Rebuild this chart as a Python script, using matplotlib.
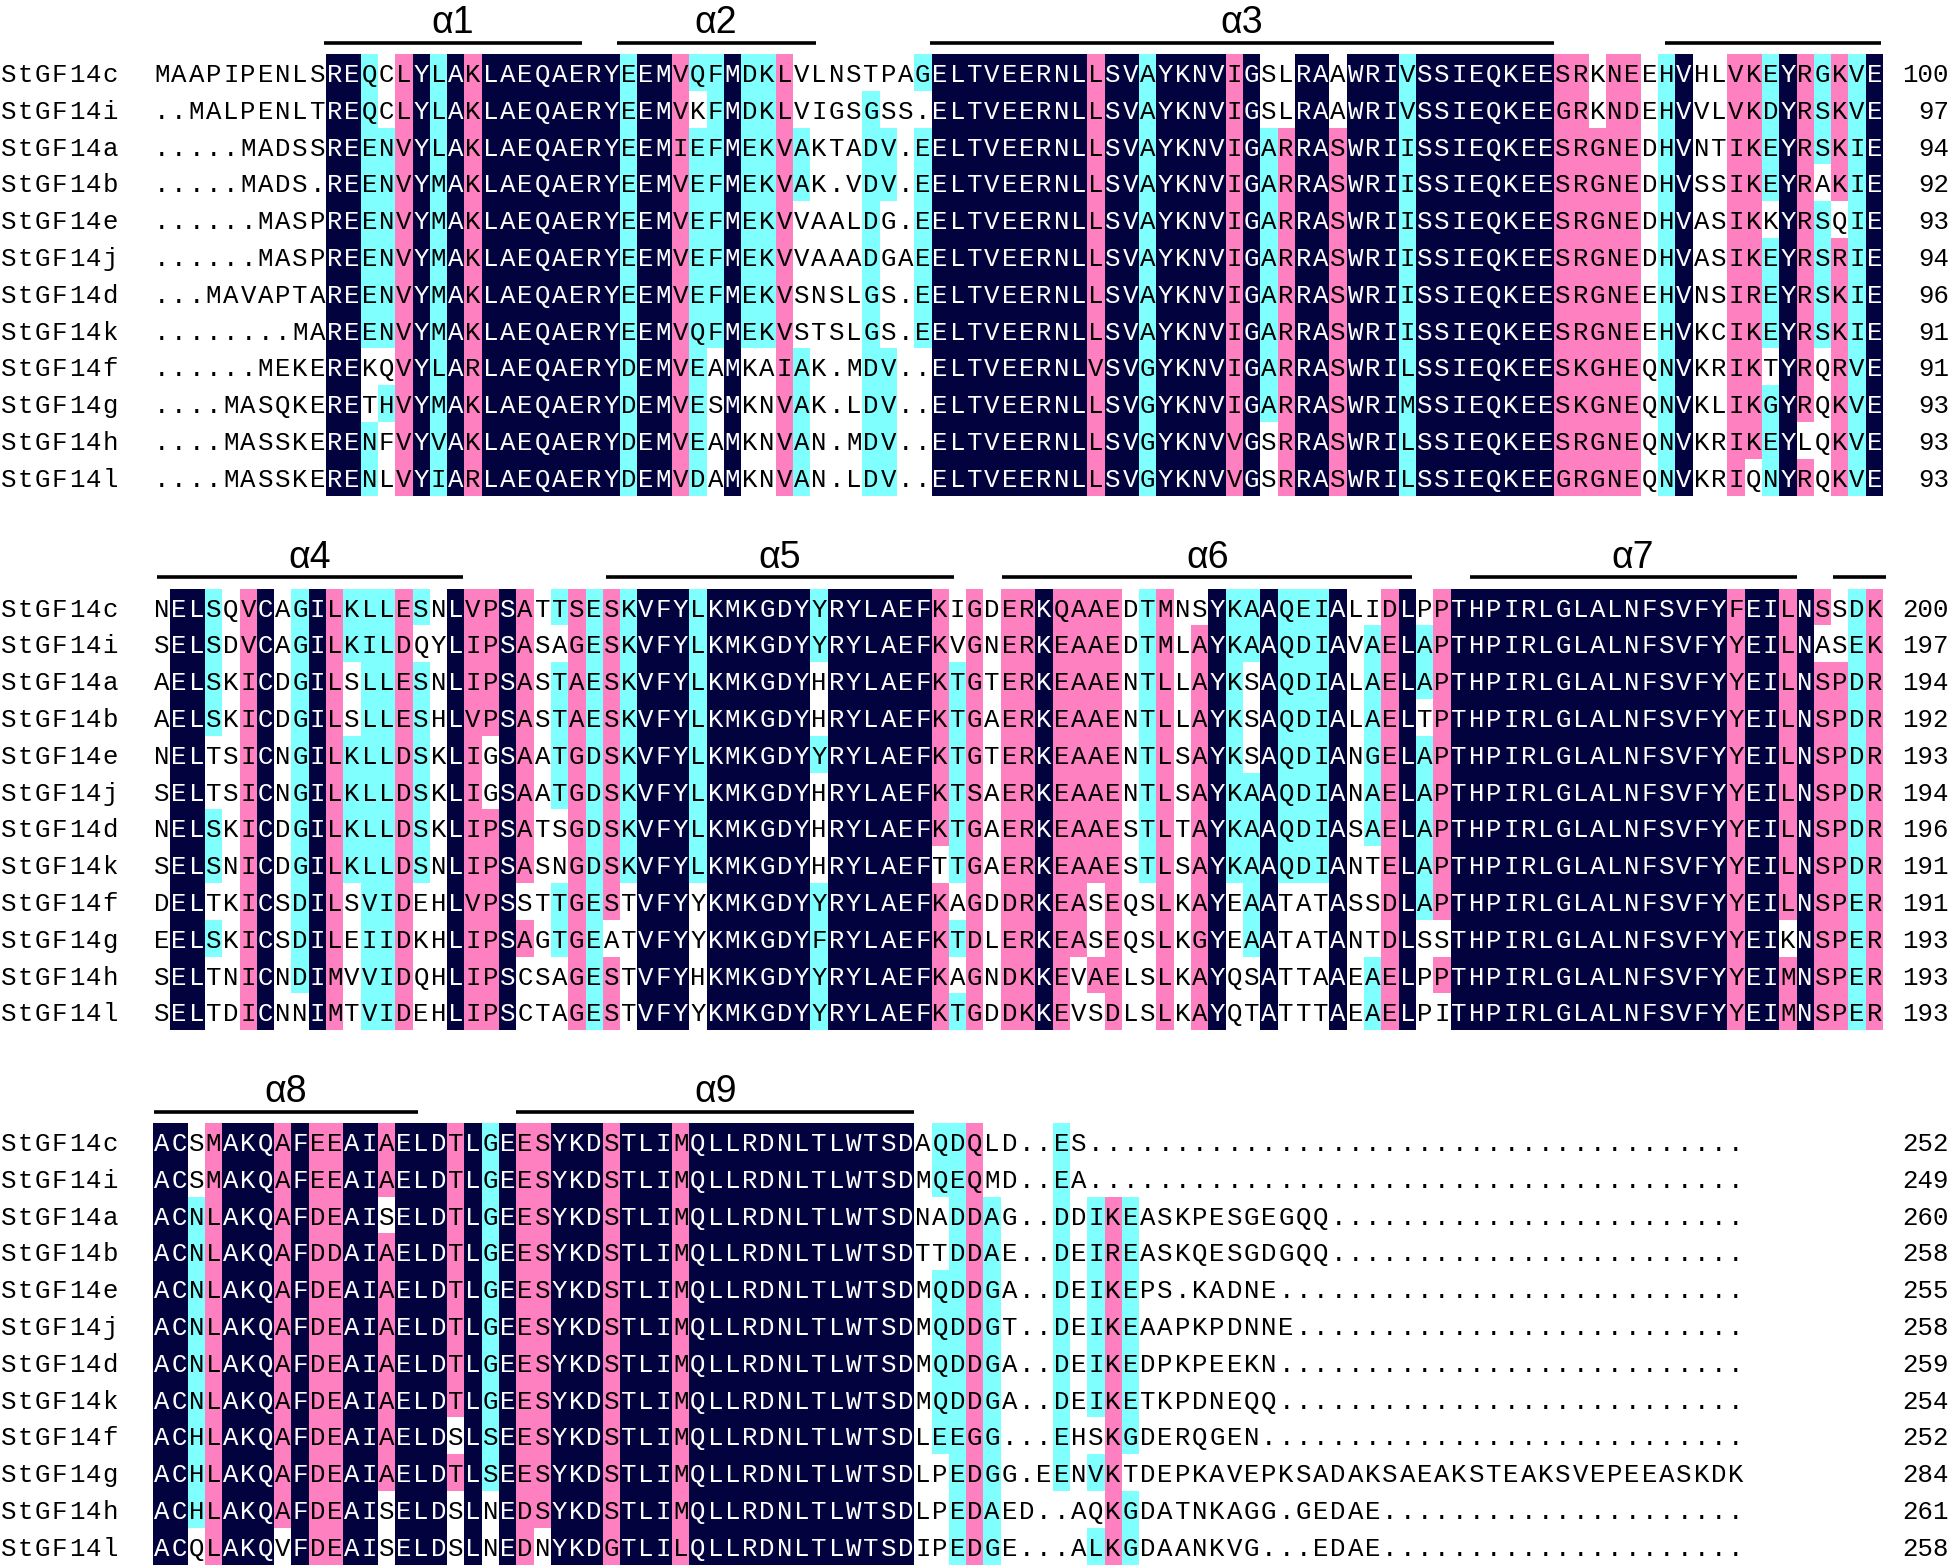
import numpy as np
import matplotlib
matplotlib.use('Agg')
import matplotlib.pyplot as plt
from matplotlib.colors import ListedColormap
from collections import Counter

# --- DATOS ---

names = ['StGF14c', 'StGF14i', 'StGF14a', 'StGF14b', 'StGF14e', 'StGF14j',
         'StGF14d', 'StGF14k', 'StGF14f', 'StGF14g', 'StGF14h', 'StGF14l']

block1 = [
    'MAAPIPENLS' 'REQCLYLAKLAEQAERY' 'EEMVQFMDKL' 'VLNSTPAG' 'ELTVEERNLL' 'SVAYK' 'NVIGSLRAAW' 'RIVSSIEQKE' 'ESRKNEEHVH' 'LVKEYRGKVE',
    '..MALPENLT' 'REQCLYLAKLAEQAERY' 'EEMVKFMDKL' 'VIGSGSS.' 'ELTVEERNLL' 'SVAYK' 'NVIGSLRAAW' 'RIVSSIEQKE' 'EGRKNDEHVV' 'LVKDYRSKVE',
    '.....MADSS' 'REENVYLAKLAEQAERY' 'EEMIEFMEKV' 'AKTADV.E' 'ELTVEERNLL' 'SVAYK' 'NVIGARRASW' 'RIISSIEQKE' 'ESRGNEDHVN' 'TIKEYRSKIE',
    '.....MADS.' 'REENVYMAKLAEQAERY' 'EEMVEFMEKV' 'AK.VDV.E' 'ELTVEERNLL' 'SVAYK' 'NVIGARRASW' 'RIISSIEQKE' 'ESRGNEDHVS' 'SIKEYRAKIE',
    '......MASP' 'REENVYMAKLAEQAERY' 'EEMVEFMEKV' 'VAALDG.E' 'ELTVEERNLL' 'SVAYK' 'NVIGARRASW' 'RIISSIEQKE' 'ESRGNEDHVA' 'SIKKYRSQIE',
    '......MASP' 'REENVYMAKLAEQAERY' 'EEMVEFMEKV' 'VAAADGAE' 'ELTVEERNLL' 'SVAYK' 'NVIGARRASW' 'RIISSIEQKE' 'ESRGNEDHVA' 'SIKEYRSRIE',
    '...MAVAPTA' 'REENVYMAKLAEQAERY' 'EEMVEFMEKV' 'SNSLGS.E' 'ELTVEERNLL' 'SVAYK' 'NVIGARRASW' 'RIISSIEQKE' 'ESRGNEEHVN' 'SIREYRSKIE',
    '........MA' 'REENVYMAKLAEQAERY' 'EEMVQFMEKV' 'STSLGS.E' 'ELTVEERNLL' 'SVAYK' 'NVIGARRASW' 'RIISSIEQKE' 'ESRGNEEHVK' 'CIKEYRSKIE',
    '......MEKE' 'REKQVYLARLAEQAERY' 'DEMVEAMKAI' 'AK.MDV..' 'ELTVEERNLV' 'SVGYK' 'NVIGARRASW' 'RILSSIEQKE' 'ESKGHEQNVK' 'RIKTYRQRVE',
    '....MASQKE' 'RETHVYMAKLAEQAERY' 'DEMVESMKNV' 'AK.LDV..' 'ELTVEERNLL' 'SVGYK' 'NVIGARRASW' 'RIMSSIEQKE' 'ESKGNEQNVK' 'LIKGYRQKVE',
    '....MASSKE' 'RENFVYVAKLAEQAERY' 'DEMVEAMKNV' 'AN.MDV..' 'ELTVEERNLL' 'SVGYK' 'NVVGSRRASW' 'RILSSIEQKE' 'ESRGNEQNVK' 'RIKEYLQKVE',
    '....MASSKE' 'RENLVYIARLAEQAERY' 'DEMVDAMKNV' 'AN.LDV..' 'ELTVEERNLL' 'SVGYK' 'NVVGSRRASW' 'RILSSIEQKE' 'EGRGNEQNVK' 'RIQNYRQKVE',
]

block2 = [
    'NELSQVCAGILKLLESNLVPSATTSESKVFYLKMKGDYYRYLAEFKIGDERKQAAEDTMNSYKAAQEIALIDLPPTHPIRLGLALNFSVFYFEILNSSDK',
    'SELSDVCAGILKILDQYLIPSASAGESKVFYLKMKGDYYRYLAEFKVGNERKEAAEDTMLAYKAAQDIAVAELAPTHPIRLGLALNFSVFYYEILNASEK',
    'AELSKICDGILSLLESNLIPSASTAESKVFYLKMKGDYHRYLAEFKTGTERKEAAENTLLAYKSAQDIALAELAPTHPIRLGLALNFSVFYYEILNSPDR',
    'AELSKICDGILSLLESHLVPSASTAESKVFYLKMKGDYHRYLAEFKTGAERKEAAENTLLAYKSAQDIALAELTPTHPIRLGLALNFSVFYYEILNSPDR',
    'NELTSICNGILKLLDSKLIGSAATGDSKVFYLKMKGDYYRYLAEFKTGTERKEAAENTLSAYKSAQDIANGELAPTHPIRLGLALNFSVFYYEILNSPDR',
    'SELTSICNGILKLLDSKLIGSAATGDSKVFYLKMKGDYHRYLAEFKTSAERKEAAENTLSAYKAAQDIANAELAPTHPIRLGLALNFSVFYYEILNSPDR',
    'NELSKICDGILKLLDSKLIPSATSGDSKVFYLKMKGDYHRYLAEFKTGAERKEAAESTLTAYKAAQDIASAELAPTHPIRLGLALNFSVFYYEILNSPDR',
    'SELSNICDGILKLLDSNLIPSASNGDSKVFYLKMKGDYHRYLAEFTTGAERKEAAESTLSAYKAAQDIANTELAPTHPIRLGLALNFSVFYYEILNSPDR',
    'DELTKICSDILSVIDEHLVPSSTTGESTVFYYKMKGDYYRYLAEFKAGDDRKEASEQSLKAYEAATATASSDLAPTHPIRLGLALNFSVFYYEILNSPER',
    'EELSKICSDILEIIDKHLIPSAGTGEATVFYYKMKGDYFRYLAEFKTDLERKEASEQSLKGYEAATATANTDLSSTHPIRLGLALNFSVFYYEIKNSPER',
    'SELTNICNDIMVVIDQHLIPSCSAGESTVFYHKMKGDYYRYLAEFKAGNDKKEVAELSLKAYQSATTAAEAELPPTHPIRLGLALNFSVFYYEIMNSPER',
    'SELTDICNNIMTVIDEHLIPSCTAGESTVFYYKMKGDYYRYLAEFKTGDDKKEVSDLSLKAYQTATTTAEAELPITHPIRLGLALNFSVFYYEIMNSPER',
]

block3 = [
    'ACSMAKQAFEEAIAELDTLGEESYKDSTLIMQLLRDNLTLWTSDAQDQLD..ES',
    'ACSMAKQAFEEAIAELDTLGEESYKDSTLIMQLLRDNLTLWTSDMQEQMD..EA',
    'ACNLAKQAFDEAISELDTLGEESYKDSTLIMQLLRDNLTLWTSDNADDAG..DDIKEASKPESGEGQQ',
    'ACNLAKQAFDDAIAELDTLGEESYKDSTLIMQLLRDNLTLWTSDTTDDAE..DEIREASKQESGDGQQ',
    'ACNLAKQAFDEAIAELDTLGEESYKDSTLIMQLLRDNLTLWTSDMQDDGA..DEIKEPS.KADNE',
    'ACNLAKQAFDEAIAELDTLGEESYKDSTLIMQLLRDNLTLWTSDMQDDGT..DEIKEAAPKPDNNE',
    'ACNLAKQAFDEAIAELDTLGEESYKDSTLIMQLLRDNLTLWTSDMQDDGA..DEIKEDPKPEEKN',
    'ACNLAKQAFDEAIAELDTLGEESYKDSTLIMQLLRDNLTLWTSDMQDDGA..DEIKETKPDNEQQ',
    'ACHLAKQAFDEAIAELDSLSEESYKDSTLIMQLLRDNLTLWTSDLEEGG...EHSKGDERQGEN',
    'ACHLAKQAFDEAIAELDTLSEESYKDSTLIMQLLRDNLTLWTSDLPEDGG.EENVKTDEPKAVEPKSADAKSAEAKSTEAKSVEPEEASKDK',
    'ACHLAKQAFDEAISELDSLNEDSYKDSTLIMQLLRDNLTLWTSDLPEDAED..AQKGDATNKAGG.GEDAE',
    'ACQLAKQVFDEAISELDSLNEDNYKDGTLILQLLRDNLTLWTSDIPEDGE...ALKGDAANKVG...EDAE',
]
block3_width = 92  # huecos finales hasta el final del alineamiento
block3 = [s.ljust(block3_width, '.') for s in block3]

# helices: etiqueta, bloque, inicio y fin (en columnas del bloque)
helix_labels = ['α1', 'α2', 'α3', '', 'α4', 'α5', 'α6', 'α7', '', 'α8', 'α9']
helix_block = [0, 0, 0, 0, 1, 1, 1, 1, 1, 2, 2]
helix_start = [9.9, 26.8, 44.9, 87.4, 0.25, 26.2, 49.1, 76.1, 97.1, 0.06, 21.0]
helix_end = [24.8, 38.3, 81.0, 99.9, 17.9, 46.3, 72.8, 95.0, 100.2, 15.3, 44.0]

blocks = [block1, block2, block3]

# --- CONSERVACION ---
similar_pairs = ['DE', 'DN', 'DQ', 'EQ', 'EN', 'NH', 'KR', 'IL', 'IV', 'IM', 'LV',
                 'LM', 'VM', 'FY', 'FW', 'YW', 'SG', 'EG', 'AG', 'DG']
similar = set()
for p in similar_pairs:
    similar.add((p[0], p[1]))
    similar.add((p[1], p[0]))


def column_levels(col):
    res = [c for c in col if c != '.']
    if not res:
        return [0] * len(col)
    cons, n = Counter(res).most_common(1)[0]
    if n == len(col):
        lev = 3
    elif n >= 0.75 * len(col):
        lev = 2
    elif n >= 0.5 * len(col):
        lev = 1
    else:
        lev = 0
    return [lev if (c == cons or (c, cons) in similar) else 0 for c in col]


def block_levels(rows):
    ncol = len(rows[0])
    lev = np.zeros((len(rows), ncol), dtype=int)
    for j in range(ncol):
        lev[:, j] = column_levels([r[j] for r in rows])
    return lev


# --- FIGURA ---
W, H = 1951, 1565
col_w = 17.3
seq_x0 = 153
row_h = 36.8
row0_px = [72.5, 607.0, 1141.5]
top_rows = 1.95

cmap = ListedColormap(['#ffffff', '#80ffff', '#ff80c0', '#02023e'])
mono = 'Liberation Mono'
fs = 18.5

fig = plt.figure(figsize=(W / 100, H / 100), dpi=100)

totals = [0] * len(names)
for b, rows in enumerate(blocks):
    top = row0_px[b] - top_rows * row_h
    height = (11.5 + top_rows) * row_h
    ax = fig.add_axes([0, 1 - (top + height) / H, 1, height / H])
    ax.set_xlim(-seq_x0 / col_w, (W - seq_x0) / col_w)
    ax.set_ylim(11.5, -top_rows)
    ax.axis('off')

    lev = block_levels(rows)
    ncol = lev.shape[1]
    ax.pcolormesh(np.arange(ncol + 1), np.arange(len(rows) + 1) - 0.5, lev,
                  cmap=cmap, vmin=-0.5, vmax=3.5, shading='flat',
                  antialiased=False, edgecolors='none')

    x_name = -seq_x0 / col_w
    for r, seq in enumerate(rows):
        y = r + 0.26
        for i, ch in enumerate(names[r]):
            ax.text(x_name + i * 0.98 + 0.5, y, ch, ha='center', va='baseline',
                    fontsize=fs, family=mono, color='black')
        for j, ch in enumerate(seq):
            ax.text(j + 0.5, y, ch, ha='center', va='baseline', fontsize=fs,
                    family=mono, color='white' if lev[r, j] == 3 else 'black')
        totals[r] += sum(1 for c in seq if c != '.')
        ax.text((W - 2 - seq_x0) / col_w, y, str(totals[r]), ha='right',
                va='baseline', fontsize=fs, family=mono, color='black')

    for lab, hb, s, e in zip(helix_labels, helix_block, helix_start, helix_end):
        if hb != b:
            continue
        ax.plot([s, e], [-0.81, -0.81], color='black', lw=2.6,
                solid_capstyle='butt')
        if lab:
            ax.text((s + e) / 2, -1.07, lab, ha='center', va='baseline',
                    fontsize=27, family='Liberation Sans', color='black')

fig.savefig('out.png', dpi=100)
